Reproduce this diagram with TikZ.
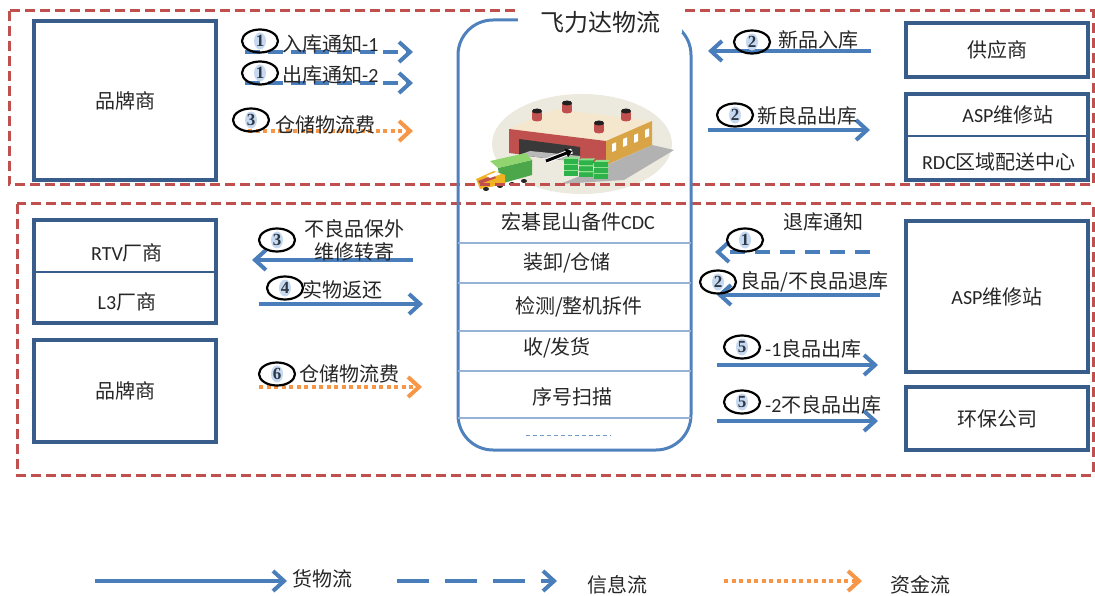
\documentclass[tikz,border=0pt]{standalone}
\usepackage{fontspec}
\setmainfont{Noto Sans CJK SC}
\newfontfamily\latin{Carlito}
\newfontfamily\numfont{Liberation Serif}
\usetikzlibrary{arrows.meta,shapes.geometric}

\definecolor{zonered}{HTML}{C0504D}
\definecolor{boxblue}{HTML}{385D8A}
\definecolor{hubblue}{HTML}{4F81BD}
\definecolor{rowblue}{HTML}{95B3D7}
\definecolor{flowblue}{HTML}{4A7EBB}
\definecolor{payorange}{HTML}{F79646}
\definecolor{inkgray}{HTML}{262626}
\definecolor{glowblue}{HTML}{C6D9F1}
\definecolor{groundbeige}{HTML}{ECEADF}
\definecolor{roofcream}{HTML}{F5E7CE}
\definecolor{wallred}{HTML}{C0504D}
\definecolor{sidegold}{HTML}{D8A445}
\definecolor{ventred}{HTML}{C0504D}
\definecolor{crate}{HTML}{2EB24A}
\definecolor{cratetop}{HTML}{8EE08A}
\definecolor{boxgreen}{HTML}{4CA64A}
\definecolor{boxtop}{HTML}{8FD46F}
\definecolor{cabyellow}{HTML}{F0B323}

\begin{document}
\begin{tikzpicture}[x=1pt,y=-1pt,
  lbl/.style={font=\fontsize{20}{23}\selectfont, text=inkgray, inner sep=0pt},
  party/.style={draw=boxblue, line width=3.5pt, minimum width=182pt, inner sep=0pt},
  zone/.style={draw=zonered, line width=3pt, dash pattern=on 10pt off 5pt},
  row/.style={draw=rowblue, line width=1.5pt},
  flow/.style={draw=flowblue, line width=4pt, -{Straight Barb[length=11pt,width=20pt]}},
  info/.style={flow, dash pattern=on 17pt off 9pt},
  money/.style={draw=payorange, line width=4pt, dash pattern=on 4pt off 3.5pt,
    -{Straight Barb[length=11pt,width=20pt]}},
  tag/.style={ellipse, draw=black, line width=2.2pt, minimum width=36pt, minimum height=23pt,
    inner sep=0pt, font=\numfont\fontsize{17}{17}\selectfont\bfseries, text=inkgray!80!flowblue,
    path picture={\fill[glowblue] (path picture bounding box.center) ellipse [x radius=6pt, y radius=8.5pt];}},
]
\useasboundingbox (0,0) rectangle (1095,596);

% ---------- warehouse picture ----------
\fill[groundbeige] (582,144) ellipse [x radius=90pt, y radius=50pt];
\fill[gray!60] (600,168) -- (652,145) -- (674,150) -- (624,180) -- (560,184) -- cycle;
\fill[roofcream] (509,129) -- (606,141) -- (652,121) -- (555,109) -- cycle;
\fill[wallred] (509,129) -- (606,141) -- (606,165) -- (509,153) -- cycle;
\fill[sidegold] (606,141) -- (652,121) -- (652,145) -- (606,165) -- cycle;
\fill[gray!45!black] (519,139) -- (580,147) -- (580,162) -- (519,155) -- cycle;
\fill[gray!55] (530,151) -- (580,156) -- (580,162) -- (519,155) -- cycle;
\draw[white, line width=5pt] (546,161) -- (572,151);
\draw[black, line width=3pt, -{Triangle[length=6pt,width=9pt]}] (546,161) -- (572,151);
\foreach \wx/\wy in {612/144,623/139,634/135,645/130}
  \fill[white] (\wx,\wy) -- (\wx+4,\wy-1.7) -- (\wx+4,\wy+6.3) -- (\wx,\wy+8) -- cycle;
\foreach \vx/\vy in {537/117,567/109,599/129,626/117} {
  \fill[ventred] (\vx-5,\vy-6) rectangle (\vx+5,\vy+2);
  \fill[ventred] (\vx,\vy+2) ellipse [x radius=5pt, y radius=2.5pt];
  \fill[gray!25!black] (\vx,\vy-6) ellipse [x radius=5pt, y radius=2.5pt];
}
\foreach \i in {0,1,2} \foreach \j in {0,1,2} {
  \pgfmathsetmacro\px{564+15*\i}
  \pgfmathsetmacro\py{171-6*\j+1.5*\i}
  \fill[crate] (\px,\py) rectangle (\px+14,\py+5);
  \fill[cratetop] (\px,\py) -- (\px+14,\py) -- (\px+16,\py-2) -- (\px+2,\py-2) -- cycle;
}
\fill[boxgreen] (498,168) -- (532,160) -- (532,175) -- (500,184) -- cycle;
\fill[boxtop] (490,161) -- (526,153) -- (532,160) -- (498,168) -- cycle;
\fill[cabyellow] (476,179) -- (494,171) -- (505,175) -- (505,184) -- (480,189) -- cycle;
\fill[wallred] (478,181) -- (494,175) -- (496,178) -- (480,184) -- cycle;
\fill[white] (486,176) -- (496,172) -- (501,174) -- (490,178) -- cycle;
\foreach \tx/\ty in {486/189,500/186,512/184,524/181}
  \fill[gray!30!black] (\tx,\ty) ellipse [x radius=3pt, y radius=2pt];

% ---------- zones ----------
\draw[zone] (9,11) rectangle (1093,185);
\draw[zone] (17,204) rectangle (1093,475);

% ---------- central hub ----------
\node[draw=hubblue, line width=3pt, rounded corners=35pt, minimum width=233pt,
      minimum height=430pt] (hub) at (574.5,235) {};
\fill[white] (518,0) rectangle (682,33);
\node[lbl, font=\fontsize{24}{28}\selectfont] (title) at (600,22) {飞力达物流};
\foreach \ry in {243,283,331,371,418}
  \draw[row] (458,\ry) -- (691,\ry);
\node[lbl] (cdc)  at (578,222) {宏碁昆山备件{\latin CDC}};
\node[lbl] (ops1) at (567,263) {装卸/仓储};
\node[lbl] (ops2) at (579,307) {检测/整机拆件};
\node[lbl] (ops3) at (557,348) {收/发货};
\node[lbl] (ops4) at (572,397) {序号扫描};
\draw[hubblue!80, line width=1pt, dash pattern=on 4pt off 3pt] (526,435) -- (611,435);

% ---------- parties ----------
\node[party, lbl, minimum height=159pt] (brandA) at (125,100.5) {品牌商};
\node[party, lbl, minimum height=54pt] (supplier) at (997,50) {供应商};
\node[party, minimum height=86pt] (outlet) at (997,137) {};
\draw[boxblue, line width=1.2pt] (906,136) -- (1088,136);
\node[lbl] (aspA) at (1008,115) {{\latin ASP}维修站};
\node[lbl] (rdc) at (999,162) {{\latin RDC}区域配送中心};

\node[party, minimum height=103pt] (vendors) at (125,271.5) {};
\draw[boxblue, line width=1.2pt] (34,272) -- (216,272);
\node[lbl] (rtv) at (127,253) {{\latin RTV}厂商};
\node[lbl] (lthree) at (127,302) {{\latin L3}厂商};
\node[party, lbl, minimum height=102pt] (brandB) at (125,391) {品牌商};
\node[party, lbl, minimum height=151pt] (aspB) at (997,296.5) {{\latin ASP}维修站};
\node[party, lbl, minimum height=63pt] (eco) at (997,418.5) {环保公司};

% ---------- upper flows ----------
\coordinate (a1s) at (245,52);  \coordinate (a1e) at (413,52);
\draw[info, dash pattern=on 15pt off 8pt] (a1s) -- (a1e);
\node[tag] (t1) at (260,41) {1};
\node[lbl, anchor=west] (l1) at (282,44) {入库通知{\latin -1}};

\coordinate (a2s) at (245,83);  \coordinate (a2e) at (413,83);
\draw[info, dash pattern=on 15pt off 8pt] (a2s) -- (a2e);
\node[tag] (t2) at (260,73) {1};
\node[lbl, anchor=west] (l2) at (282,75) {出库通知{\latin -2}};

\coordinate (a3s) at (248,131); \coordinate (a3e) at (413,131);
\draw[money] (a3s) -- (a3e);
\node[tag] (t3) at (251,120) {3};
\node[lbl, anchor=west] (l3) at (275,125) {仓储物流费};

\coordinate (a4s) at (871,51);  \coordinate (a4e) at (708,51);
\draw[flow] (a4s) -- (a4e);
\node[tag] (t4) at (752,42) {2};
\node[lbl, anchor=west] (l4) at (778,40) {新品入库};

\coordinate (a5s) at (708,130); \coordinate (a5e) at (870,130);
\draw[flow] (a5s) -- (a5e);
\node[tag] (t5) at (735,115) {2};
\node[lbl, anchor=west] (l5) at (757,116) {新良品出库};

% ---------- lower flows ----------
\coordinate (b1s) at (413,260); \coordinate (b1e) at (252,260);
\draw[flow] (b1s) -- (b1e);
\node[tag] (t6) at (277,240) {3};
\node[lbl, align=center] (l6) at (354,240) {不良品保外\\维修转寄};

\coordinate (b2s) at (259,304); \coordinate (b2e) at (423,304);
\draw[flow] (b2s) -- (b2e);
\node[tag] (t7) at (285,288) {4};
\node[lbl, anchor=west] (l7) at (302,290) {实物返还};

\coordinate (b3s) at (259,387); \coordinate (b3e) at (422,387);
\draw[money] (b3s) -- (b3e);
\node[tag] (t8) at (277,374) {6};
\node[lbl, anchor=west] (l8) at (299,374) {仓储物流费};

\coordinate (c1s) at (870,252); \coordinate (c1e) at (715,252);
\draw[info, dash pattern=on 15pt off 10pt] (c1s) -- (c1e);
\node[tag] (t9) at (745,240) {1};
\node[lbl] (l9) at (823,222) {退库通知};

\coordinate (c2s) at (880,295); \coordinate (c2e) at (717,295);
\draw[flow] (c2s) -- (c2e);
\node[tag] (t10) at (718,282) {2};
\node[lbl, anchor=west] (l10) at (740,282) {良品/不良品退库};

\coordinate (c3s) at (717,365); \coordinate (c3e) at (878,365);
\draw[flow] (c3s) -- (c3e);
\node[tag] (t11) at (742,347) {5};
\node[lbl, anchor=west] (l11) at (765,349) {{\latin -1}良品出库};

\coordinate (c4s) at (717,421); \coordinate (c4e) at (878,421);
\draw[flow] (c4s) -- (c4e);
\node[tag] (t12) at (742,402) {5};
\node[lbl, anchor=west] (l12) at (765,405) {{\latin -2}不良品出库};

% ---------- legend ----------
\coordinate (k1s) at (95,581);  \coordinate (k1e) at (287,581);
\draw[flow] (k1s) -- (k1e);
\node[lbl] (k1) at (322,579) {货物流};
\coordinate (k2s) at (397,581); \coordinate (k2e) at (557,581);
\draw[info, dash pattern=on 32pt off 16pt] (k2s) -- (k2e);
\node[lbl] (k2) at (617,585) {信息流};
\coordinate (k3s) at (724,581); \coordinate (k3e) at (862,581);
\draw[money] (k3s) -- (k3e);
\node[lbl] (k3) at (920,585) {资金流};
\end{tikzpicture}
\end{document}
